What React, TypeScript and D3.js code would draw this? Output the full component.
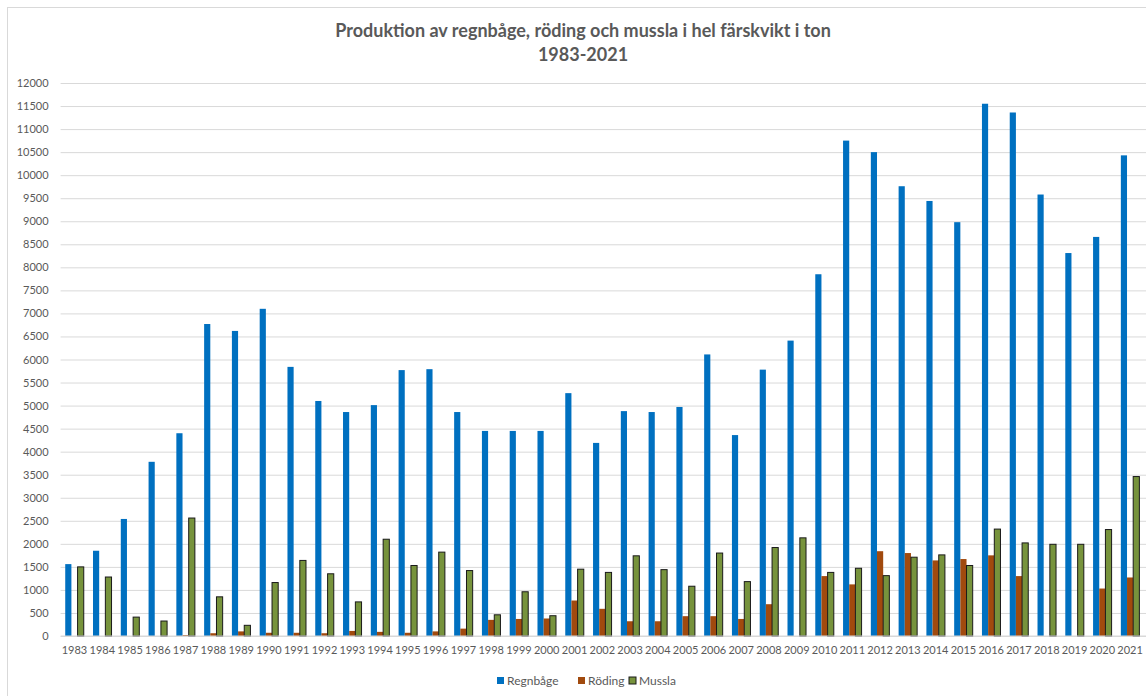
import { useRef, useEffect } from 'react'
import * as d3 from 'd3'

const YEARS = [
  '1983', '1984', '1985', '1986', '1987', '1988', '1989', '1990', '1991', '1992',
  '1993', '1994', '1995', '1996', '1997', '1998', '1999', '2000', '2001', '2002',
  '2003', '2004', '2005', '2006', '2007', '2008', '2009', '2010', '2011', '2012',
  '2013', '2014', '2015', '2016', '2017', '2018', '2019', '2020', '2021',
]

const REGNBAGE = [
  1560, 1850, 2540, 3780, 4400, 6770, 6620, 7100, 5840, 5100,
  4860, 5010, 5770, 5790, 4860, 4450, 4450, 4450, 5270, 4190,
  4880, 4860, 4970, 6110, 4360, 5780, 6410, 7850, 10750, 10500,
  9760, 9440, 8980, 11550, 11360, 9580, 8310, 8660, 10430,
]

const RODING = [
  0, 0, 0, 0, 20, 60, 100, 70, 70, 60,
  110, 90, 70, 100, 160, 350, 370, 380, 770, 590,
  320, 320, 430, 430, 370, 690, 0, 1300, 1120, 1840,
  1800, 1640, 1670, 1750, 1300, 0, 0, 1030, 1270,
]

const MUSSLA = [
  1500, 1280, 410, 325, 2560, 850, 232, 1160, 1640, 1350,
  740, 2100, 1530, 1820, 1420, 460, 960, 440, 1450, 1380,
  1740, 1440, 1080, 1800, 1180, 1920, 2130, 1380, 1470, 1310,
  1710, 1760, 1530, 2320, 2020, 1990, 1990, 2310, 3460,
]

const Y_TICKS = d3.range(0, 12001, 500)

const SERIES = [
  { name: 'Regnbåge', values: REGNBAGE, color: '#0070C0', stroke: 'none' },
  { name: 'Röding', values: RODING, color: '#A14A0E', stroke: 'none' },
  { name: 'Mussla', values: MUSSLA, color: '#77933C', stroke: '#1a1a1a' },
]

const W = 1146
const H = 696
const MARGIN = { top: 83, right: 2, bottom: 60, left: 60.6 }
const TEXT = '#595959'
const GRID = '#D9D9D9'
const FONT = "Lato, 'Open Sans', sans-serif"

export default function App() {
  const svgRef = useRef<SVGSVGElement>(null)

  useEffect(() => {
    const svg = d3.select(svgRef.current)
    svg.selectAll('*').remove()

    const x0 = d3.scaleBand<string>().domain(YEARS).range([MARGIN.left, W - MARGIN.right]).paddingInner(0).paddingOuter(0)
    const x1 = d3
      .scaleBand<string>()
      .domain(SERIES.map((s) => s.name))
      .range([0, x0.bandwidth()])
      .paddingInner(0)
      .paddingOuter(0.75)
    const y = d3.scaleLinear().domain([0, 12000]).range([H - MARGIN.bottom, MARGIN.top])

    // chart frame
    svg.append('rect')
      .attr('x', 7.5).attr('y', 7.5)
      .attr('width', W + 20).attr('height', H + 20)
      .attr('fill', '#fff').attr('stroke', '#D9D9D9')

    // title
    const title = svg.append('text')
      .attr('text-anchor', 'middle')
      .attr('fill', TEXT)
      .attr('font-family', FONT)
      .attr('font-weight', 'bold')
      .attr('font-size', 18)
    title.append('tspan').attr('x', 583).attr('y', 37).text('Produktion av regnbåge, röding och mussla i hel färskvikt i ton')
    title.append('tspan').attr('x', 583).attr('y', 61).text('1983-2021')

    // y axis with grid
    const yAxis = d3.axisLeft(y).tickValues(Y_TICKS).tickSize(-(W - MARGIN.left)).tickPadding(12).tickFormat(d3.format('d'))
    svg.append('g')
      .attr('transform', `translate(${MARGIN.left},0)`)
      .call(yAxis)
      .call((g) => g.select('.domain').remove())
      .call((g) => g.selectAll('.tick line').attr('stroke', GRID))
      .call((g) => g.selectAll('.tick text').attr('fill', TEXT).attr('font-size', 11).attr('font-family', FONT))

    // bars
    SERIES.forEach((s) => {
      svg.append('g')
        .selectAll('rect')
        .data(s.values)
        .join('rect')
        .attr('x', (_, i) => (x0(YEARS[i]) ?? 0) + (x1(s.name) ?? 0))
        .attr('y', (d) => y(d))
        .attr('width', x1.bandwidth())
        .attr('height', (d) => y(0) - y(d))
        .attr('fill', s.color)
        .attr('stroke', (d) => (d > 0 ? s.stroke : 'none'))
        .attr('stroke-width', 1)
    })

    // baseline
    svg.append('line')
      .attr('x1', MARGIN.left).attr('x2', W)
      .attr('y1', y(0)).attr('y2', y(0))
      .attr('stroke', GRID)

    // x axis labels
    const xAxis = d3.axisBottom(x0).tickSize(0).tickPadding(10)
    svg.append('g')
      .attr('transform', `translate(0,${y(0)})`)
      .call(xAxis)
      .call((g) => g.select('.domain').remove())
      .call((g) => g.selectAll('.tick text').attr('fill', TEXT).attr('font-size', 11).attr('font-family', FONT))

    // legend
    const legendX = [497, 578, 629]
    SERIES.forEach((s, i) => {
      const lg = svg.append('g').attr('transform', `translate(${legendX[i]},681)`)
      lg.append('rect')
        .attr('x', 0).attr('y', -4)
        .attr('width', 7).attr('height', 7)
        .attr('fill', s.color)
        .attr('stroke', s.stroke)
      lg.append('text')
        .attr('x', 10).attr('y', 0)
        .attr('dy', '0.35em')
        .attr('fill', TEXT)
        .attr('font-size', 12)
        .attr('font-family', FONT)
        .text(s.name)
    })
  }, [])

  return (
    <div style={{ position: 'fixed', left: 0, top: 0, width: W, height: H, background: '#fff' }}>
      <svg ref={svgRef} width={W} height={H} />
    </div>
  )
}
